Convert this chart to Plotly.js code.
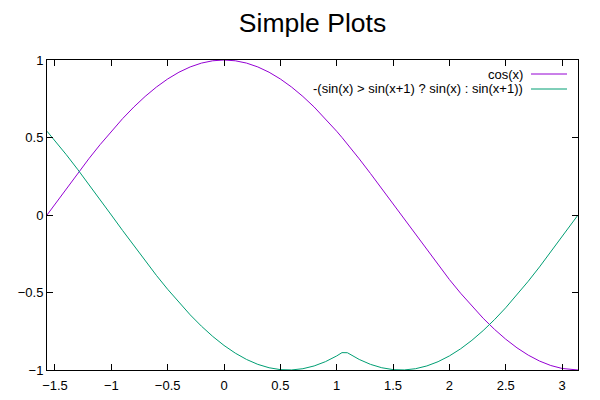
<!DOCTYPE html>
<html>
<head>
<meta charset="utf-8">
<script src="https://cdn.plot.ly/plotly-3.0.1.min.js"></script>
<style>html,body{margin:0;padding:0;background:#fff;}#chart{width:600px;height:400px;}</style>
</head>
<body>
<div id="chart"></div>
<script>
// sample positions along x
const xs = [-1.5708,-1.5,-1.4,-1.3,-1.2,-1.1,-1.0,-0.9,-0.8,-0.7,-0.6,-0.5,-0.4,-0.3,-0.2,-0.1,0,
  0.1,0.2,0.3,0.4,0.5,0.6,0.7,0.8,0.9,1.0,1.047,1.095,1.2,1.3,1.4,1.5,1.6,1.7,1.8,1.9,2.0,
  2.1,2.2,2.3,2.4,2.5,2.6,2.7,2.8,2.9,3.0,3.1,3.1416];
// cos(x) curve
const cosVals = [0,0.0707,0.1700,0.2675,0.3624,0.4536,0.5403,0.6216,0.6967,0.7648,0.8253,0.8776,0.9211,0.9553,0.9801,0.9950,1,
  0.9950,0.9801,0.9553,0.9211,0.8776,0.8253,0.7648,0.6967,0.6216,0.5403,0.5002,0.4580,0.3624,0.2675,0.1700,0.0707,-0.0292,-0.1288,-0.2272,-0.3233,-0.4161,
  -0.5048,-0.5885,-0.6663,-0.7374,-0.8011,-0.8569,-0.9041,-0.9422,-0.9710,-0.9900,-0.9991,-1];
// second curve
const negMaxVals = [0.5403,0.4794,0.3894,0.2955,0.1987,0.0998,0,-0.0998,-0.1987,-0.2955,-0.3894,-0.4794,-0.5646,-0.6442,-0.7174,-0.7833,-0.8415,
  -0.8912,-0.9320,-0.9636,-0.9854,-0.9975,-0.9996,-0.9917,-0.9738,-0.9463,-0.9093,-0.8880,-0.8886,-0.9320,-0.9636,-0.9854,-0.9975,-0.9996,-0.9917,-0.9738,-0.9463,-0.9093,
  -0.8632,-0.8085,-0.7457,-0.6755,-0.5985,-0.5155,-0.4274,-0.3350,-0.2392,-0.1411,-0.0416,0];
const seriesNames = ["cos(x)", "-(sin(x) > sin(x+1) ? sin(x) : sin(x+1))"];
const seriesColors = ["#9400d3", "#009e73"];
const xTicks = [-1.5,-1,-0.5,0,0.5,1,1.5,2,2.5,3];
const yTicks = [-1,-0.5,0,0.5,1];

const font = {family: "Liberation Sans, Arial, sans-serif", size: 13, color: "#000"};
const traces = [cosVals, negMaxVals].map((ys, i) => ({
  x: xs, y: ys, type: "scatter", mode: "lines", name: seriesNames[i],
  line: {color: seriesColors[i], width: 1}, hoverinfo: "skip"
}));

const legendY = [74, 89];
const annotations = seriesNames.map((n, i) => ({
  xref: "paper", yref: "paper", x: (525 - 47) / 531, y: 1 - (legendY[i] - 60) / 310,
  xanchor: "right", yanchor: "middle", text: n, showarrow: false, font: font
}));
const shapes = seriesNames.map((n, i) => ({
  type: "line", xref: "paper", yref: "paper",
  x0: (531 - 47) / 531, x1: (567 - 47) / 531,
  y0: 1 - (legendY[i] - 60) / 310, y1: 1 - (legendY[i] - 60) / 310,
  line: {color: seriesColors[i], width: 1}
}));

const axisCommon = {
  showgrid: false, zeroline: false, showline: true, linecolor: "#000", linewidth: 1,
  mirror: "ticks", ticks: "inside", ticklen: 6, tickwidth: 1, tickcolor: "#000",
  tickfont: font
};
const fmt = v => String(v).replace("-", "\u2212");

const layout = {
  width: 600, height: 400,
  margin: {l: 47, r: 22, t: 60, b: 30},
  paper_bgcolor: "#fff", plot_bgcolor: "#fff",
  showlegend: false,
  title: {text: "Simple Plots", xref: "paper", x: 0.5, xanchor: "center", yref: "container", y: 1 - 23/400, yanchor: "middle",
    font: {family: "Liberation Sans, Arial, sans-serif", size: 26.5, color: "#000"}},
  xaxis: Object.assign({}, axisCommon, {range: [-1.5708, 3.1416], tickvals: xTicks, ticktext: xTicks.map(fmt), ticklabelstandoff: 3}),
  yaxis: Object.assign({}, axisCommon, {range: [-1, 1], tickvals: yTicks, ticktext: yTicks.map(fmt)}),
  annotations: annotations,
  shapes: shapes
};

Plotly.newPlot("chart", traces, layout, {staticPlot: true, displayModeBar: false});
</script>
</body>
</html>
